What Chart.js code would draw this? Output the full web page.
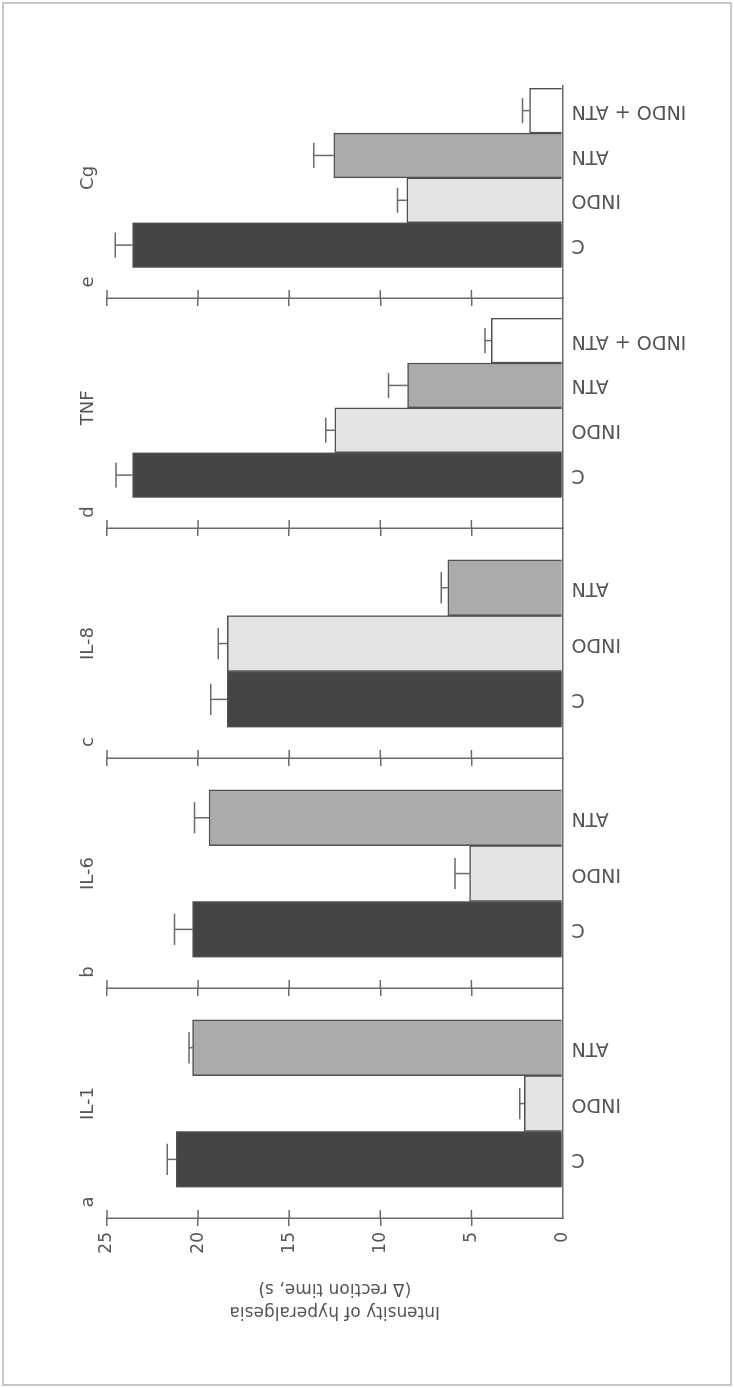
<!DOCTYPE html>
<html>
<head>
<meta charset="utf-8">
<script src="https://cdn.jsdelivr.net/npm/chart.js@4.4.1/dist/chart.umd.min.js"></script>
<style>
  html, body { margin: 0; padding: 0; background: #fff; overflow: hidden; }
  #page { position: relative; width: 734px; height: 1388px; }
  #frame { position: absolute; left: 2px; top: 2px; width: 726px; height: 1380px; border: 2px solid #c8c8c8; }
  /* the figure is laid out landscape and turned a quarter turn onto the page */
  #sheet { position: absolute; left: 0; top: 0; width: 1388px; height: 734px;
           transform-origin: 0 0; transform: translateY(1388px) rotate(-90deg); }
  #sheet canvas { position: absolute; left: 0; top: 0; }
</style>
</head>
<body>
<div id="page"><div id="frame"></div><div id="sheet"></div></div>
<script>
// ---- data -------------------------------------------------------------
const PANEL_NAMES   = ['IL-1', 'IL-6', 'IL-8', 'TNF', 'Cg'];
const PANEL_LETTERS = ['a', 'b', 'c', 'd', 'e'];
const TREATMENTS_3  = ['C', 'INDO', 'ATN'];
const TREATMENTS_4  = ['C', 'INDO', 'ATN', 'INDO + ATN'];

const IL1_MEAN = [21.2, 2.1, 20.3];
const IL1_SEM  = [0.5, 0.25, 0.2];
const IL6_MEAN = [20.3, 5.1, 19.4];
const IL6_SEM  = [1.0, 0.8, 0.8];
const IL8_MEAN = [18.4, 18.4, 6.3];
const IL8_SEM  = [0.9, 0.5, 0.35];
const TNF_MEAN = [23.6, 12.5, 8.5, 3.9];
const TNF_SEM  = [0.9, 0.5, 1.05, 0.35];
const CG_MEAN  = [23.6, 8.55, 12.55, 1.8];
const CG_SEM   = [0.95, 0.5, 1.1, 0.4];

const VALUE_TICKS       = [0, 5, 10, 15, 20, 25];
const VALUE_TICK_LABELS = ['0', '5', '10', '15', '20', '25'];
const VALUE_TITLE       = ['Intensity of hyperalgesia', '(\u0394 rection time, s)'];

// ---- styling ------------------------------------------------------------
const FILL = { 'C': '#454545', 'INDO': '#e4e4e4', 'ATN': '#ababab', 'INDO + ATN': '#ffffff' };
const INK = '#555555';
const LINE = '#6a6a6a';
const SHEET_W = 1388, SHEET_H = 734;
const AREA_TOP = 107, AREA_BOTTOM = 562.5;

Chart.defaults.font.family = "'DejaVu Sans', sans-serif";

// panel geometry: left edge of each value axis, plot width, index range
const panels = [
  { name: PANEL_NAMES[0], letter: PANEL_LETTERS[0], cats: TREATMENTS_3, mean: IL1_MEAN, sem: IL1_SEM, left: 170, width: 230, xMin: -1.05, xMax: 3.07, labels: true },
  { name: PANEL_NAMES[1], letter: PANEL_LETTERS[1], cats: TREATMENTS_3, mean: IL6_MEAN, sem: IL6_SEM, left: 400, width: 230, xMin: -1.05, xMax: 3.07, labels: false },
  { name: PANEL_NAMES[2], letter: PANEL_LETTERS[2], cats: TREATMENTS_3, mean: IL8_MEAN, sem: IL8_SEM, left: 630, width: 230, xMin: -1.05, xMax: 3.07, labels: false },
  { name: PANEL_NAMES[3], letter: PANEL_LETTERS[3], cats: TREATMENTS_4, mean: TNF_MEAN, sem: TNF_SEM, left: 860, width: 230, xMin: -1.18, xMax: 3.95, labels: false },
  { name: PANEL_NAMES[4], letter: PANEL_LETTERS[4], cats: TREATMENTS_4, mean: CG_MEAN,  sem: CG_SEM,  left: 1090, width: 212, xMin: -1.18, xMax: 3.55, labels: false }
];

// error bars (mean + SEM) on top of each bar
const errorBars = {
  id: 'errorBars',
  afterDatasetsDraw(chart, args, opts) {
    const ys = chart.scales.y;
    const ds = chart.data.datasets[0];
    const meta = chart.getDatasetMeta(0);
    const ctx = chart.ctx;
    ctx.save();
    ctx.strokeStyle = LINE;
    ctx.lineWidth = 1.5;
    meta.data.forEach((bar, i) => {
      const v = ds.data[i].y;
      const top = ys.getPixelForValue(v);
      const tip = ys.getPixelForValue(v + opts.sem[i]);
      const half = bar.width * 0.28;
      ctx.beginPath();
      ctx.moveTo(bar.x, top); ctx.lineTo(bar.x, tip);
      ctx.moveTo(bar.x - half, tip); ctx.lineTo(bar.x + half, tip);
      ctx.stroke();
    });
    ctx.restore();
  }
};

// tick marks that cross the value axis into the plot side
const innerTicks = {
  id: 'innerTicks',
  afterDraw(chart) {
    const ys = chart.scales.y;
    const x0 = chart.chartArea.left;
    const ctx = chart.ctx;
    ctx.save();
    ctx.strokeStyle = LINE;
    ctx.lineWidth = 1.5;
    ys.ticks.forEach(t => {
      if (t.value === 0) return;
      const y = ys.getPixelForValue(t.value);
      ctx.beginPath(); ctx.moveTo(x0, y); ctx.lineTo(x0 + 8, y); ctx.stroke();
    });
    ctx.restore();
  }
};

// panel letter and stimulus name above each group
const panelText = {
  id: 'panelText',
  afterDraw(chart, args, opts) {
    const ctx = chart.ctx;
    const xs = chart.scales.x;
    const area = chart.chartArea;
    ctx.save();
    ctx.fillStyle = INK;
    ctx.font = "18px 'DejaVu Sans'";
    ctx.textAlign = 'center';
    ctx.textBaseline = 'alphabetic';
    ctx.fillText(opts.letter, area.left + 16, area.top - 14);
    ctx.fillText(opts.name, xs.getPixelForValue((opts.count - 1) / 2), area.top - 14);
    ctx.restore();
  }
};

const sheet = document.getElementById('sheet');

panels.forEach(p => {
  const canvas = document.createElement('canvas');
  canvas.width = SHEET_W; canvas.height = SHEET_H;
  canvas.style.width = SHEET_W + 'px'; canvas.style.height = SHEET_H + 'px';
  sheet.appendChild(canvas);
  const yAxisWidth = p.labels ? 170 : 20;

  new Chart(canvas, {
    type: 'bar',
    data: {
      datasets: [{
        data: p.mean.map((v, i) => ({ x: i, y: v })),
        backgroundColor: p.cats.map(c => FILL[c]),
        borderColor: '#505050',
        borderWidth: 1.5,
        borderSkipped: 'start',
        categoryPercentage: 1,
        barPercentage: 1
      }]
    },
    options: {
      responsive: false,
      animation: false,
      devicePixelRatio: 1,
      layout: { padding: { left: p.left - yAxisWidth, right: SHEET_W - (p.left + p.width), top: AREA_TOP, bottom: 0 } },
      plugins: {
        legend: { display: false },
        tooltip: { enabled: false },
        errorBars: { sem: p.sem },
        panelText: { letter: p.letter, name: p.name, count: p.cats.length }
      },
      scales: {
        x: {
          type: 'linear',
          position: 'bottom',
          offset: false,
          min: p.xMin,
          max: p.xMax,
          afterBuildTicks: s => { s.ticks = p.cats.map((c, i) => ({ value: i })); },
          afterFit: s => { s.height = SHEET_H - AREA_BOTTOM; },
          ticks: {
            callback: v => p.cats[v],
            autoSkip: false, maxRotation: 90, minRotation: 90,
            padding: 9, color: INK, font: { size: 19 }
          },
          grid: { display: false, drawTicks: false },
          border: { display: true, color: LINE, width: 1.5 }
        },
        y: {
          type: 'linear',
          min: 0,
          max: 25,
          afterBuildTicks: s => { s.ticks = VALUE_TICKS.map(v => ({ value: v })); },
          afterFit: s => { s.width = yAxisWidth; },
          ticks: {
            display: p.labels,
            callback: v => VALUE_TICK_LABELS[VALUE_TICKS.indexOf(v)],
            padding: 6, color: INK, font: { size: 17 }
          },
          grid: {
            drawOnChartArea: false, drawTicks: true, tickLength: 8,
            color: LINE, lineWidth: 1.5, tickWidth: 1.5,
            tickColor: c => (c.tick && c.tick.value === 0) ? 'rgba(0,0,0,0)' : LINE
          },
          border: { display: true, color: LINE, width: 1.5 },
          title: {
            display: p.labels,
            text: VALUE_TITLE,
            color: INK,
            font: { size: 17, lineHeight: 1.35 },
            padding: { top: 65.5, bottom: 0 }
          }
        }
      }
    },
    plugins: [errorBars, innerTicks, panelText]
  });
});
</script>
</body>
</html>
